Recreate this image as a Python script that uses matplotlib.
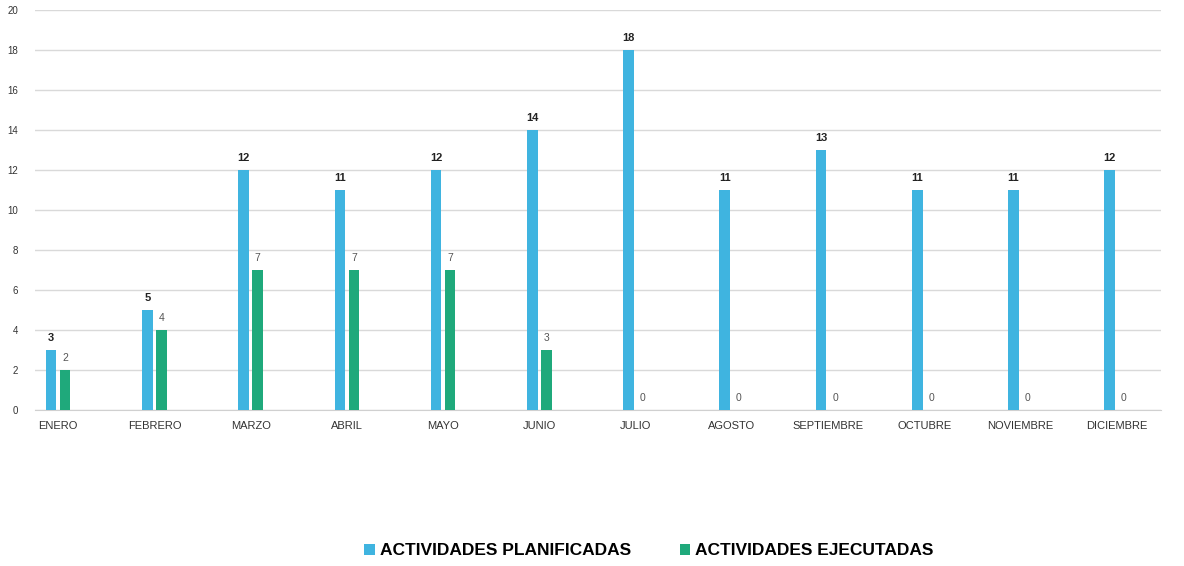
import matplotlib.pyplot as plt
import numpy as np

plt.rcParams['font.family'] = ['Liberation Sans Narrow', 'Liberation Sans', 'DejaVu Sans']

months = ['ENERO', 'FEBRERO', 'MARZO', 'ABRIL', 'MAYO', 'JUNIO', 'JULIO',
          'AGOSTO', 'SEPTIEMBRE', 'OCTUBRE', 'NOVIEMBRE', 'DICIEMBRE']
planificadas = [3, 5, 12, 11, 12, 14, 18, 11, 13, 11, 11, 12]
ejecutadas = [2, 4, 7, 7, 7, 3, 0, 0, 0, 0, 0, 0]

blue = '#3fb4e0'
green = '#1fa97b'

fig = plt.figure(figsize=(11.84, 5.66), dpi=100)
ax = fig.add_axes([0.0296, 0.2756, 0.951, 0.7067])

x = np.arange(len(months))
w = 0.11
b1 = ax.bar(x - 0.073, planificadas, w, color=blue, label='ACTIVIDADES PLANIFICADAS', zorder=3)
b2 = ax.bar(x + 0.073, ejecutadas, w, color=green, label='ACTIVIDADES EJECUTADAS', zorder=3)

for xi, v in zip(x, planificadas):
    ax.text(xi - 0.073, v + 0.35, str(v), ha='center', va='bottom',
            fontsize=8, fontweight='bold', color='#222222')
for xi, v in zip(x, ejecutadas):
    ax.text(xi + 0.073, v + 0.35, str(v), ha='center', va='bottom',
            fontsize=7.5, color='#555555')

ax.set_ylim(0, 20)
ax.set_yticks(range(0, 21, 2))
ax.set_xlim(-0.24, 11.46)
ax.set_xticks(x)
ax.set_xticklabels(months, fontsize=8, color='#333333')
ax.tick_params(axis='y', labelsize=7, colors='#333333', length=0, pad=12)
ax.tick_params(axis='x', length=0, pad=8)
ax.grid(axis='y', color='#d9d9d9', linewidth=1, zorder=0)
for s in ['top', 'right', 'left']:
    ax.spines[s].set_visible(False)
ax.spines['bottom'].set_color('#d0d0d0')

fig.legend(handles=[b1, b2], loc='center', bbox_to_anchor=(0.548, 0.027), ncol=2,
           frameon=False, prop={'size': 12.5, 'weight': 'bold'},
           handlelength=0.6, handleheight=0.6, handletextpad=0.3, columnspacing=2.8)

plt.savefig('out.png', dpi=100)
